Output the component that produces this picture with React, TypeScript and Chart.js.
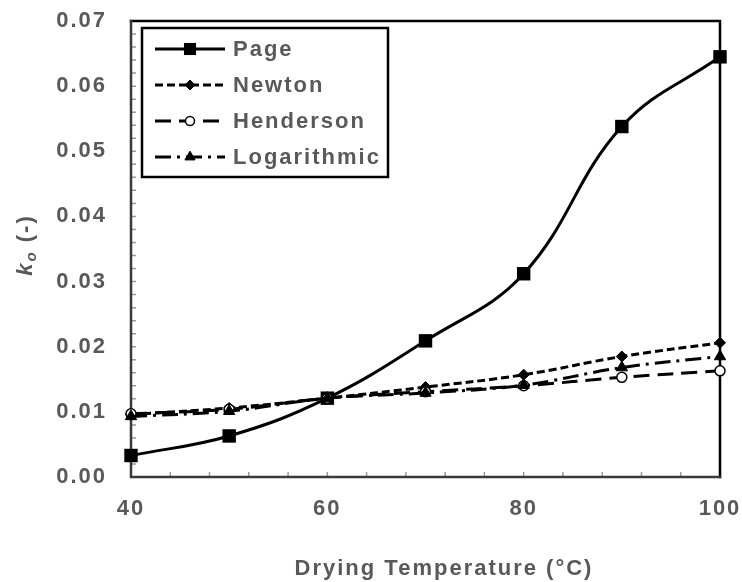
import React, { useEffect, useRef } from 'react';
import { Chart, registerables } from 'chart.js';
import { drawPoint } from 'chart.js/helpers';

Chart.register(...registerables);

// ---- data ----
const temperatures = [40, 50, 60, 70, 80, 90, 100];
const pageValues = [0.0033, 0.0063, 0.0121, 0.0209, 0.0312, 0.0538, 0.0645];
const newtonValues = [0.0096, 0.0106, 0.0121, 0.0138, 0.0157, 0.0185, 0.0206];
const hendersonValues = [0.0097, 0.0104, 0.0121, 0.0131, 0.014, 0.0153, 0.0163];
const logarithmicValues = [0.0093, 0.0101, 0.0121, 0.0129, 0.0141, 0.0168, 0.0185];
const seriesNames = ['Page', 'Newton', 'Henderson', 'Logarithmic'];
const xTitle = 'Drying Temperature (°C)';
const yTitleMain = 'k';
const yTitleSub = 'o';
const yTitleRest = ' (-)';

const X_MIN = 40;
const X_MAX = 100;
const X_MAJOR = 20;
const X_MINOR = 4;
const Y_MIN = 0;
const Y_MAX = 0.07;
const Y_MAJOR = 0.01;
const Y_MINOR = 0.002;

const FONT_FAMILY = '"Liberation Sans", Arial, Helvetica, sans-serif';
const TEXT_COLOR = '#595959';
const LETTER_SPACING = '2px';

const styles = [
  { dash: [] as number[], width: 3, point: 'rect', radius: 9.5, bg: '#000', pbw: 0 },
  { dash: [8, 4], width: 3, point: 'rectRot', radius: 5.5, bg: '#000', pbw: 1 },
  { dash: [16, 8], width: 3, point: 'circle', radius: 5, bg: '#fff', pbw: 1.5 },
  { dash: [16, 6, 3, 6], width: 3, point: 'triangle', radius: 6.5, bg: '#000', pbw: 1 },
];

const seriesValues = [pageValues, newtonValues, hendersonValues, logarithmicValues];

const spacingPlugin = {
  id: 'spacing',
  beforeUpdate(chart: any) {
    chart.ctx.letterSpacing = LETTER_SPACING;
  },
  beforeDraw(chart: any) {
    chart.ctx.letterSpacing = LETTER_SPACING;
  },
};

const framePlugin = {
  id: 'frame',
  beforeDatasetsDraw(chart: any) {
    const { ctx, chartArea } = chart;
    const { left, right, top, bottom } = chartArea;
    const xs = chart.scales.x;
    const ys = chart.scales.y;
    ctx.save();
    ctx.strokeStyle = '#9a9a9a';
    ctx.lineWidth = 1.5;
    ctx.beginPath();
    for (let v = X_MIN + X_MINOR; v < X_MAX - 1e-9; v += X_MINOR) {
      const px = xs.getPixelForValue(v);
      ctx.moveTo(px, bottom);
      ctx.lineTo(px, bottom - 5);
    }
    for (let i = 1; i * Y_MINOR < Y_MAX - 1e-9; i++) {
      const py = ys.getPixelForValue(i * Y_MINOR);
      ctx.moveTo(left, py);
      ctx.lineTo(left + 5, py);
    }
    ctx.stroke();
    ctx.lineCap = 'square';
    ctx.strokeStyle = '#000';
    ctx.lineWidth = 2.5;
    ctx.beginPath();
    ctx.moveTo(left, top);
    ctx.lineTo(right, top);
    ctx.lineTo(right, bottom);
    ctx.stroke();
    ctx.strokeStyle = '#3a3a3a';
    ctx.lineWidth = 2.5;
    ctx.beginPath();
    ctx.moveTo(left, top);
    ctx.lineTo(left, bottom);
    ctx.lineTo(right, bottom);
    ctx.stroke();
    ctx.restore();
  },
};

const legendPlugin = {
  id: 'boxLegend',
  afterDatasetsDraw(chart: any) {
    const { ctx } = chart;
    const boxL = 142;
    const boxT = 28;
    const boxW = 246;
    const boxH = 149;
    ctx.save();
    ctx.fillStyle = '#fff';
    ctx.fillRect(boxL, boxT, boxW, boxH);
    ctx.strokeStyle = '#000';
    ctx.lineWidth = 2.5;
    ctx.strokeRect(boxL, boxT, boxW, boxH);
    chart.data.datasets.forEach((ds: any, i: number) => {
      const cy = boxT + 21 + i * 36;
      ctx.save();
      ctx.strokeStyle = '#000';
      ctx.lineWidth = ds.borderWidth;
      ctx.setLineDash(ds.borderDash || []);
      ctx.beginPath();
      ctx.moveTo(155, cy);
      ctx.lineTo(225, cy);
      ctx.stroke();
      ctx.setLineDash([]);
      ctx.fillStyle = ds.pointBackgroundColor;
      ctx.strokeStyle = '#000';
      ctx.lineWidth = ds.pointBorderWidth;
      drawPoint(ctx, { pointStyle: ds.pointStyle, radius: ds.pointRadius * 0.9, borderWidth: ds.pointBorderWidth, rotation: 0 }, 190, cy);
      ctx.restore();
      ctx.fillStyle = TEXT_COLOR;
      ctx.font = `bold 22px ${FONT_FAMILY}`;
      ctx.letterSpacing = LETTER_SPACING;
      ctx.textAlign = 'left';
      ctx.textBaseline = 'middle';
      ctx.fillText(ds.label, 233, cy + 1);
    });
    ctx.restore();
  },
};

const titlesPlugin = {
  id: 'axisTitles',
  afterDraw(chart: any) {
    const { ctx, chartArea } = chart;
    const { top, bottom } = chartArea;
    ctx.save();
    ctx.fillStyle = TEXT_COLOR;
    ctx.letterSpacing = LETTER_SPACING;
    ctx.textBaseline = 'middle';
    ctx.textAlign = 'center';
    ctx.font = `bold 22px ${FONT_FAMILY}`;
    ctx.fillText(xTitle, 444, 569);

    // y title, rotated
    const mainFont = `italic bold 22px ${FONT_FAMILY}`;
    const subFont = `italic bold 15px ${FONT_FAMILY}`;
    const restFont = `bold 22px ${FONT_FAMILY}`;
    ctx.font = mainFont;
    const w1 = ctx.measureText(yTitleMain).width;
    ctx.font = subFont;
    const w2 = ctx.measureText(yTitleSub).width;
    ctx.font = restFont;
    const w3 = ctx.measureText(yTitleRest).width;
    const total = w1 + w2 + w3;
    ctx.translate(25, (top + bottom) / 2 - 4);
    ctx.rotate(-Math.PI / 2);
    ctx.textAlign = 'left';
    ctx.textBaseline = 'alphabetic';
    let x = -total / 2;
    ctx.font = mainFont;
    ctx.fillText(yTitleMain, x, 7);
    x += w1;
    ctx.font = subFont;
    ctx.fillText(yTitleSub, x, 11);
    x += w2;
    ctx.font = restFont;
    ctx.fillText(yTitleRest, x, 7);
    ctx.restore();
  },
};

export default function App() {
  const canvasRef = useRef<HTMLCanvasElement | null>(null);

  useEffect(() => {
    document.body.style.margin = '0';
    const canvas = canvasRef.current;
    if (!canvas) return;
    const datasets = seriesNames.map((name, i) => ({
      label: name,
      data: temperatures.map((t, j) => ({ x: t, y: seriesValues[i][j] })),
      borderColor: '#000',
      borderWidth: styles[i].width,
      borderDash: styles[i].dash,
      pointStyle: styles[i].point,
      pointRadius: styles[i].radius,
      pointBackgroundColor: styles[i].bg,
      pointBorderColor: '#000',
      pointBorderWidth: styles[i].pbw,
      tension: 0.4,
      fill: false,
      clip: false as any,
      order: seriesNames.length - i,
    }));
    const chart = new Chart(canvas, {
      type: 'line',
      data: { datasets },
      options: {
        animation: false,
        responsive: false,
        devicePixelRatio: 1,
        layout: { padding: { top: 21, right: 22, left: 0, bottom: 0 } },
        plugins: {
          legend: { display: false },
          tooltip: { enabled: false },
          title: { display: false },
        },
        scales: {
          x: {
            type: 'linear',
            min: X_MIN,
            max: X_MAX,
            grid: { display: false, drawTicks: false },
            border: { display: false },
            ticks: {
              stepSize: X_MAJOR,
              autoSkip: false,
              maxRotation: 0,
              padding: 19,
              color: TEXT_COLOR,
              font: { family: FONT_FAMILY, size: 22, weight: 'bold' },
            },
            afterFit: (scale: any) => {
              scale.height = 105;
              scale.paddingLeft = 0;
              scale.paddingRight = 0;
            },
          },
          y: {
            type: 'linear',
            min: Y_MIN,
            max: Y_MAX,
            grid: { display: false, drawTicks: false },
            border: { display: false },
            ticks: {
              stepSize: Y_MAJOR,
              padding: 24,
              color: TEXT_COLOR,
              font: { family: FONT_FAMILY, size: 22, weight: 'bold' },
              callback: (v: any) => Number(v).toFixed(2),
            },
            afterFit: (scale: any) => {
              scale.width = 131;
              scale.paddingTop = 0;
              scale.paddingBottom = 0;
            },
          },
        },
      },
      plugins: [spacingPlugin, framePlugin, legendPlugin, titlesPlugin],
    });
    return () => chart.destroy();
  }, []);

  return (
    <div style={{ width: 742, height: 582 }}>
      <canvas ref={canvasRef} width={742} height={582} style={{ display: 'block' }} />
    </div>
  );
}
